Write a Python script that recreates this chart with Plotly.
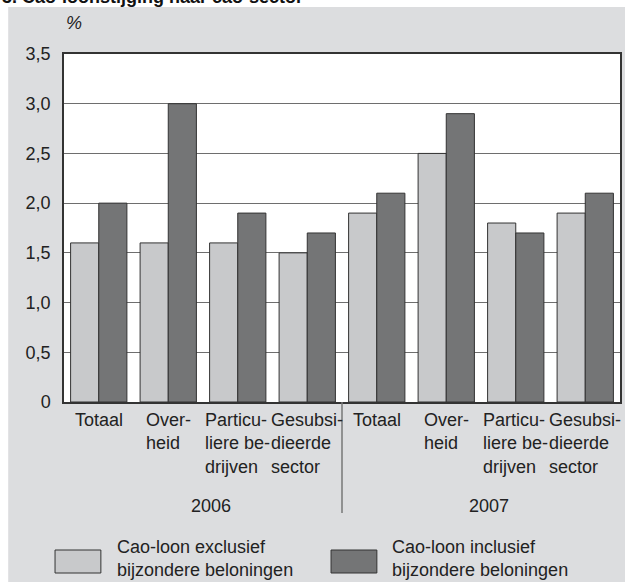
import plotly.graph_objects as go

categories = ["Totaal", "Over-<br>heid", "Particu-<br>liere be-<br>drijven", "Gesubsi-<br>dieerde<br>sector",
              "Totaal", "Over-<br>heid", "Particu-<br>liere be-<br>drijven", "Gesubsi-<br>dieerde<br>sector"]
years = ["2006", "2007"]
excl_values = [1.6, 1.6, 1.6, 1.5, 1.9, 2.5, 1.8, 1.9]
incl_values = [2.0, 3.0, 1.9, 1.7, 2.1, 2.9, 1.7, 2.1]
series_names = ["Cao-loon exclusief<br>bijzondere beloningen", "Cao-loon inclusief<br>bijzondere beloningen"]
y_tickvals = [0, 0.5, 1.0, 1.5, 2.0, 2.5, 3.0, 3.5]
y_ticktext = ["0", "0,5", "1,0", "1,5", "2,0", "2,5", "3,0", "3,5"]
title_text = "3. Cao-loonstijging naar cao-sector"

W, H = 630, 582
L, R, T, B = 64, 8, 54, 180
PW, PH = W - L - R, H - T - B

def px(xp):
    return (xp - L) / PW

def py(yp):
    return (H - B - yp) / PH

LIGHT = "#c8c9cb"
DARK = "#747576"
EDGE = "#333333"
BG = "#dcdddf"
TXT = "#222222"
FONT = "Liberation Sans, Arial, sans-serif"
FS = 18

xs = list(range(len(categories)))

fig = go.Figure()
fig.add_trace(go.Bar(x=xs, y=excl_values, name=series_names[0], marker=dict(color=LIGHT, line=dict(color=EDGE, width=1))))
fig.add_trace(go.Bar(x=xs, y=incl_values, name=series_names[1], marker=dict(color=DARK, line=dict(color=EDGE, width=1))))

annotations = []
for i, c in enumerate(categories):
    annotations.append(dict(x=i, xref="x", y=0, yref="paper", yanchor="top", xanchor="center",
                            yshift=-6, text=c, align="left", showarrow=False,
                            font=dict(size=FS, color=TXT, family=FONT)))
for j, yr in enumerate(years):
    annotations.append(dict(x=1.62 + 4 * j, xref="x", y=0, yref="paper", yanchor="middle", xanchor="center",
                            yshift=-104, text=yr, showarrow=False,
                            font=dict(size=FS, color=TXT, family=FONT)))
annotations.append(dict(x=px(64), xref="paper", y=py(23), yref="paper", xanchor="left", yanchor="middle",
                        text="<i>%</i>", showarrow=False, font=dict(size=FS, color=TXT, family=FONT)))
annotations.append(dict(x=px(0), xref="paper", y=py(9), yref="paper", xanchor="left", yanchor="bottom",
                        text="<b>" + title_text + "</b>", showarrow=False,
                        font=dict(size=FS, color="#111111", family=FONT)))
# legend texts
annotations.append(dict(x=px(115), xref="paper", y=py(558), yref="paper", xanchor="left", yanchor="middle",
                        text=series_names[0], align="left", showarrow=False,
                        font=dict(size=FS, color=TXT, family=FONT)))
annotations.append(dict(x=px(391), xref="paper", y=py(558), yref="paper", xanchor="left", yanchor="middle",
                        text=series_names[1], align="left", showarrow=False,
                        font=dict(size=FS, color=TXT, family=FONT)))

shapes = [
    dict(type="rect", xref="paper", yref="paper", x0=px(-5), x1=px(W + 5), y0=py(7), y1=py(-5),
         fillcolor="white", line=dict(width=0), layer="below"),
    dict(type="rect", xref="paper", yref="paper", x0=px(-5), x1=px(8), y0=py(H + 5), y1=py(-5),
         fillcolor="white", line=dict(width=0), layer="below"),
    dict(type="rect", xref="paper", yref="paper", x0=px(627), x1=px(W + 5), y0=py(H + 5), y1=py(-5),
         fillcolor="white", line=dict(width=0), layer="below"),
    dict(type="line", xref="x", yref="paper", x0=3.5, x1=3.5, y0=0, y1=py(513),
         line=dict(color="#777777", width=1.5)),
    dict(type="rect", xref="paper", yref="paper", x0=px(55), x1=px(101), y0=py(573), y1=py(550),
         fillcolor=LIGHT, line=dict(color=EDGE, width=1)),
    dict(type="rect", xref="paper", yref="paper", x0=px(332), x1=px(378), y0=py(573), y1=py(550),
         fillcolor=DARK, line=dict(color=EDGE, width=1)),
]

fig.update_layout(
    width=W, height=H,
    margin=dict(l=L, r=R, t=T, b=B, pad=0),
    paper_bgcolor=BG, plot_bgcolor="white",
    barmode="group", bargap=0.19, bargroupgap=0,
    showlegend=False,
    font=dict(family=FONT, size=FS, color=TXT),
    annotations=annotations, shapes=shapes,
)
fig.update_xaxes(range=[-0.5, 7.5], showticklabels=False, showgrid=False, zeroline=False,
                 showline=True, linecolor=EDGE, linewidth=1.5, mirror=True, ticks="")
fig.update_yaxes(range=[0, 3.5], tickvals=y_tickvals, ticktext=y_ticktext, showgrid=True,
                 gridcolor="#6e6e6e", gridwidth=1.2, zeroline=False, showline=True, linecolor=EDGE,
                 linewidth=1.5, mirror=True, ticks="", ticklabelstandoff=8,
                 tickfont=dict(size=FS, color=TXT, family=FONT))

fig.write_html("out.html", config={"displayModeBar": False},
               post_script="document.body.style.margin='0';document.body.style.overflow='hidden';")
